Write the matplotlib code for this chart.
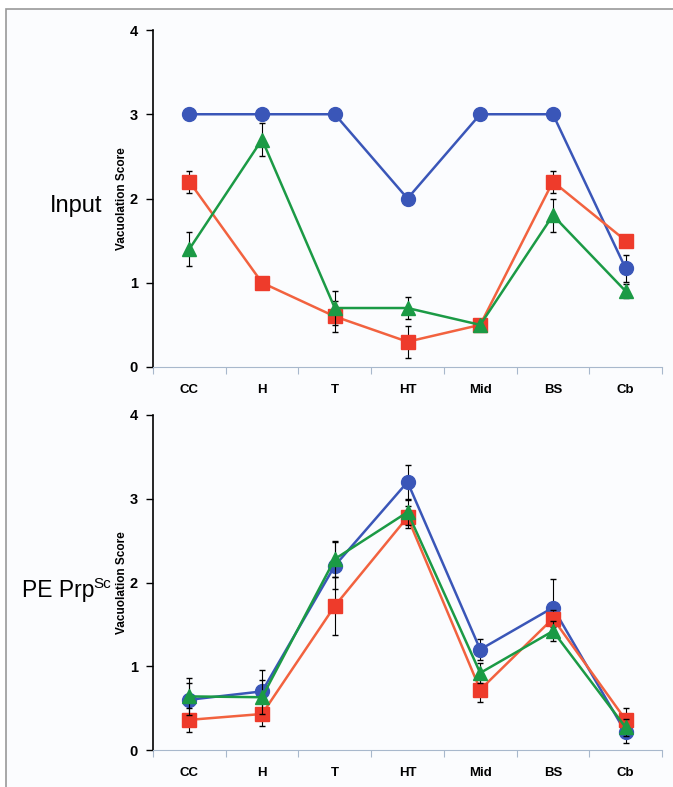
import matplotlib.pyplot as plt
from matplotlib.patches import Rectangle

plt.rcParams["font.family"] = ["Liberation Sans", "DejaVu Sans"]

regions = ["CC", "H", "T", "HT", "Mid", "BS", "Cb"]

# Input panel
input_blue = [3.0, 3.0, 3.0, 2.0, 3.0, 3.0, 1.17]
input_blue_err = [0, 0, 0, 0, 0, 0, 0.16]
input_red = [2.2, 1.0, 0.6, 0.3, 0.5, 2.2, 1.5]
input_red_err = [0.13, 0, 0.18, 0.19, 0, 0.13, 0]
input_green = [1.4, 2.7, 0.7, 0.7, 0.5, 1.8, 0.9]
input_green_err = [0.2, 0.2, 0.2, 0.13, 0, 0.2, 0.08]

# PE PrpSc panel
pe_blue = [0.6, 0.7, 2.2, 3.2, 1.2, 1.7, 0.21]
pe_blue_err = [0.2, 0.26, 0.28, 0.2, 0.12, 0.34, 0.13]
pe_red = [0.36, 0.43, 1.72, 2.78, 0.72, 1.57, 0.36]
pe_red_err = [0.14, 0.14, 0.35, 0.13, 0.15, 0.1, 0.14]
pe_green = [0.64, 0.63, 2.28, 2.84, 0.92, 1.42, 0.27]
pe_green_err = [0.22, 0.2, 0.22, 0.15, 0.12, 0.12, 0.1]

BLUE = "#3a56b8"
RED = "#ee3b2b"
RED_LINE = "#f2623f"
GREEN = "#1b9a45"


def draw_panel(ax, blue, blue_err, red, red_err, green, green_err):
    x = list(range(len(regions)))
    ax.errorbar(x, red, yerr=red_err, color=RED_LINE, lw=1.8, marker="s", ms=10,
                mfc=RED, mec=RED, ecolor="black", elinewidth=0.8, capsize=2, zorder=3)
    ax.errorbar(x, green, yerr=green_err, color=GREEN, lw=1.8, marker="^", ms=10,
                mfc=GREEN, mec=GREEN, ecolor="black", elinewidth=0.8, capsize=2, zorder=4)
    ax.errorbar(x, blue, yerr=blue_err, color=BLUE, lw=1.8, marker="o", ms=10,
                mfc=BLUE, mec=BLUE, ecolor="black", elinewidth=0.8, capsize=2, zorder=2)
    ax.set_xlim(-0.5, 6.5)
    ax.set_ylim(0, 4)
    ax.set_yticks([0, 1, 2, 3, 4])
    ax.set_xticks([i - 0.5 for i in range(8)])
    ax.set_xticklabels([])
    ax.set_xticks(x, minor=True)
    ax.set_xticklabels(regions, minor=True, fontweight="bold", fontsize=9.5)
    ax.tick_params(axis="x", which="minor", length=0, pad=12)
    ax.tick_params(axis="x", which="major", length=5, color="#a8b8cc", direction="out")
    ax.tick_params(axis="y", length=5, width=1, labelsize=10.5, pad=6)
    for lab in ax.get_yticklabels():
        lab.set_fontweight("bold")
    ax.spines["top"].set_visible(False)
    ax.spines["right"].set_visible(False)
    ax.spines["bottom"].set_color("#a8b8cc")
    ax.spines["left"].set_linewidth(1.2)
    ax.set_ylabel("Vacuolation Score", fontsize=8.5, fontweight="bold", labelpad=1)
    ax.patch.set_alpha(0)


fig = plt.figure(figsize=(6.73, 7.87), dpi=100)
fig.patch.set_facecolor("white")
fig.patches.append(Rectangle((6 / 673, -0.01), 1.0, 1 - 9 / 787 + 0.01,
                             transform=fig.transFigure, facecolor="#fbfcfe",
                             edgecolor="#999999", lw=1.2, zorder=-5))

ax1 = fig.add_axes([153 / 673, 1 - 367 / 787, 509 / 673, 337 / 787])
draw_panel(ax1, input_blue, input_blue_err, input_red, input_red_err,
           input_green, input_green_err)
ax2 = fig.add_axes([153 / 673, 1 - 750 / 787, 509 / 673, 335 / 787])
draw_panel(ax2, pe_blue, pe_blue_err, pe_red, pe_red_err, pe_green, pe_green_err)

fig.text(76 / 673, 1 - 212 / 787, "Input", fontsize=17, ha="center", va="baseline")
fig.text(22 / 673, 1 - 597 / 787, "PE Prp", fontsize=16.5, ha="left", va="baseline")
fig.text(93 / 673, 1 - 588 / 787, "Sc", fontsize=11, ha="left", va="baseline")

fig.savefig("out.png", dpi=100)
